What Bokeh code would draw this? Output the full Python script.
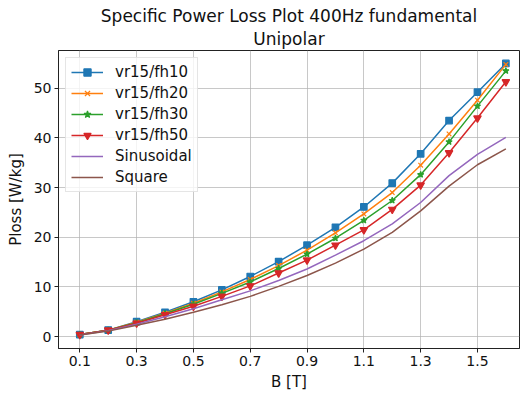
from bokeh.plotting import figure
from bokeh.models import Range1d, FixedTicker, Legend, LegendItem, Title
from bokeh.embed import file_html
from bokeh.resources import INLINE

# Flux density values [T]
b_values = [0.1, 0.2, 0.3, 0.4, 0.5, 0.6, 0.7, 0.8, 0.9, 1.0, 1.1, 1.2, 1.3, 1.4, 1.5, 1.6]

# Specific power loss [W/kg] per excitation
vr15_fh10 = [0.4, 1.3, 3.0, 4.9, 7.0, 9.4, 12.1, 15.1, 18.4, 22.0, 26.1, 30.9, 36.8, 43.5, 49.2, 55.0]
vr15_fh20 = [0.4, 1.3, 2.9, 4.7, 6.7, 9.0, 11.5, 14.3, 17.4, 20.9, 24.7, 29.0, 34.5, 40.8, 47.6, 54.8]
vr15_fh30 = [0.4, 1.3, 2.8, 4.6, 6.5, 8.7, 11.0, 13.7, 16.6, 19.8, 23.4, 27.4, 32.6, 39.2, 46.4, 53.5]
vr15_fh50 = [0.4, 1.3, 2.7, 4.4, 6.1, 8.1, 10.2, 12.8, 15.4, 18.4, 21.5, 25.6, 30.5, 37.0, 44.0, 51.3]
sinusoidal = [0.3, 1.2, 2.5, 4.0, 5.6, 7.4, 9.2, 11.3, 13.6, 16.4, 19.3, 22.7, 27.0, 32.4, 36.7, 40.1]
square = [0.3, 1.1, 2.3, 3.5, 4.9, 6.4, 8.1, 10.1, 12.3, 14.8, 17.6, 21.0, 25.3, 30.3, 34.6, 37.8]

x_ticks = [0.1, 0.3, 0.5, 0.7, 0.9, 1.1, 1.3, 1.5]
y_ticks = [0, 10, 20, 30, 40, 50]

title_lines = ["Specific Power Loss Plot 400Hz fundamental", "Unipolar"]

FONT = "DejaVu Sans"

p = figure(
    width=520, height=393,
    output_backend="svg", toolbar_location=None,
    x_range=Range1d(0.025, 1.648), y_range=Range1d(-2.4, 57.6),
    min_border_left=58, min_border_right=1, min_border_top=50, min_border_bottom=43,
)
p.background_fill_color = "white"
p.border_fill_color = "white"
p.outline_line_color = "#222222"
p.outline_line_width = 1


def style_title(t, standoff):
    t.align = "center"
    t.text_font = FONT
    t.text_font_size = "17px"
    t.text_font_style = "normal"
    t.text_color = "#111111"
    t.standoff = standoff
    t.offset = 0


# first line is the outer title, the second one sits next to the frame
p.title.text = title_lines[0]
style_title(p.title, 0)
inner_title = Title(text=title_lines[1])
style_title(inner_title, 3)
p.add_layout(inner_title, "above")

for ax in (p.xaxis[0], p.yaxis[0]):
    ax.axis_line_color = "#222222"
    ax.major_tick_line_color = "#222222"
    ax.major_tick_out = 4
    ax.major_tick_in = 0
    ax.minor_tick_line_color = None
    ax.major_label_text_font = FONT
    ax.major_label_text_font_size = "14px"
    ax.major_label_text_color = "#111111"
    ax.axis_label_text_font = FONT
    ax.axis_label_text_font_size = "15px"
    ax.axis_label_text_font_style = "normal"
    ax.axis_label_text_color = "#111111"
    ax.major_label_standoff = 3

p.xaxis.ticker = FixedTicker(ticks=x_ticks)
p.yaxis.ticker = FixedTicker(ticks=y_ticks)
p.xaxis.axis_label = "B [T]"
p.yaxis.axis_label = "Ploss [W/kg]"
p.xaxis.axis_label_standoff = 4
p.yaxis.axis_label_standoff = 6

p.grid.grid_line_color = "#b0b0b0"
p.grid.grid_line_alpha = 0.7
p.grid.grid_line_width = 1

series = [
    ("vr15/fh10", vr15_fh10, "#1f77b4", "square", 6.5),
    ("vr15/fh20", vr15_fh20, "#ff7f0e", "x", 6.5),
    ("vr15/fh30", vr15_fh30, "#2ca02c", "star", 6.5),
    ("vr15/fh50", vr15_fh50, "#d62728", "inverted_triangle", 7.5),
    ("Sinusoidal", sinusoidal, "#9467bd", None, 0),
    ("Square", square, "#8c564b", None, 0),
]

items = []
for name, vals, color, marker, size in series:
    rs = [p.line(b_values, vals, line_color=color, line_width=1.5)]
    if marker:
        rs.append(p.scatter(b_values, vals, marker=marker, size=size,
                            fill_color=color, line_color=color, line_width=1.2))
    items.append(LegendItem(label=name, renderers=rs))

legend = Legend(items=items, location="top_left")
legend.margin = 7
legend.padding = 5
legend.spacing = 3
legend.glyph_width = 32
legend.glyph_height = 18
legend.label_height = 18
legend.label_standoff = 12
legend.label_text_font = FONT
legend.label_text_font_size = "15px"
legend.label_text_color = "#111111"
legend.border_line_color = "#cccccc"
legend.border_line_width = 1
legend.background_fill_color = "white"
legend.background_fill_alpha = 0.8
p.add_layout(legend, "center")

open("out.html", "w").write(file_html(p, INLINE))
